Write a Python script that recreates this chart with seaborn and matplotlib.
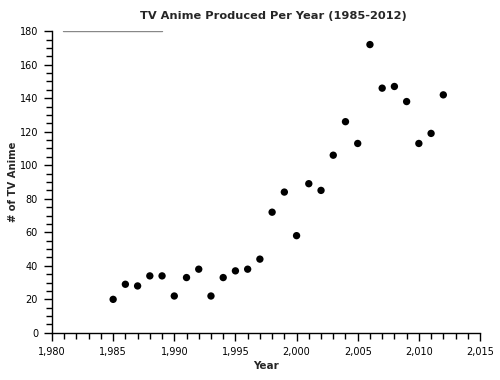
import matplotlib
matplotlib.use('Agg')
import matplotlib.pyplot as plt
import seaborn as sns
import pandas as pd
from matplotlib.ticker import MultipleLocator, FuncFormatter

# data
years = [1985, 1986, 1987, 1988, 1989, 1990, 1991, 1992, 1993, 1994,
         1995, 1996, 1997, 1998, 1999, 2000, 2001, 2002, 2003, 2004,
         2005, 2006, 2007, 2008, 2009, 2010, 2011, 2012]
counts = [20, 29, 28, 34, 34, 22, 33, 38, 22, 33,
          37, 38, 44, 72, 84, 58, 89, 85, 106, 126,
          113, 172, 146, 147, 138, 113, 119, 142]

df = pd.DataFrame({'Year': years, 'Count': counts})

sns.set_theme(style='ticks')
plt.rcParams['font.family'] = ['DejaVu Sans']

fig = plt.figure(figsize=(5, 3.8), dpi=100)
ax = fig.add_axes([0.104, 0.124, 0.856, 0.794])

sns.scatterplot(data=df, x='Year', y='Count', ax=ax, color='black',
                s=28, edgecolor='none', linewidth=0, legend=False)

# faint grey line near the top left, as in the reference
ax.axhline(180, xmin=0.025, xmax=0.258, color='#888888', linewidth=1)

ax.set_xlim(1980, 2015)
ax.set_ylim(0, 180)
ax.xaxis.set_major_locator(MultipleLocator(5))
ax.xaxis.set_minor_locator(MultipleLocator(1))
ax.yaxis.set_major_locator(MultipleLocator(20))
ax.yaxis.set_minor_locator(MultipleLocator(5))
ax.xaxis.set_major_formatter(FuncFormatter(lambda v, p: f'{int(v):,}'))

ax.tick_params(which='major', length=6, width=1, labelsize=7, colors='black', pad=4)
ax.tick_params(which='minor', length=4, width=1, colors='black')

sns.despine(ax=ax)
for s in ['left', 'bottom']:
    ax.spines[s].set_color('black')
    ax.spines[s].set_linewidth(1)

ax.set_xlabel('Year', fontsize=7.5, fontweight='bold', labelpad=3)
ax.set_ylabel('# of TV Anime', fontsize=7.2, fontweight='bold', labelpad=1)
ax.set_title('TV Anime Produced Per Year (1985-2012)', fontsize=8.2,
             fontweight='bold', pad=9, x=0.517)

fig.savefig('out.png', dpi=100, facecolor='white')
